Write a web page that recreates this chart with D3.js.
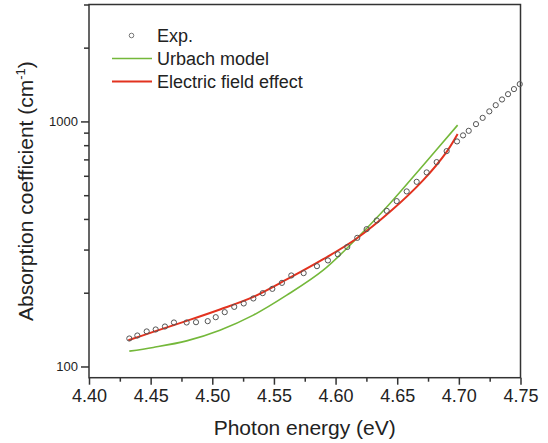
<!DOCTYPE html>
<html>
<head>
<meta charset="utf-8">
<script src="https://cdn.jsdelivr.net/npm/d3@7"></script>
<style>
body{margin:0;background:#fff}
svg text{font-family:"Liberation Sans",Arial,sans-serif;fill:#222}
</style>
</head>
<body>
<svg id="chart" width="548" height="443"></svg>
<script>
// experimental points (photon energy in eV, absorption coefficient in cm^-1)
var expE=[4.4327,4.4392,4.4468,4.4541,4.4616,4.4689,4.4792,4.4868,4.4963,4.5028,
    4.5101,4.5178,4.5255,4.5333,4.5409,4.5487,4.5565,4.5641,4.5741,4.5849,
    4.5938,4.6018,4.6095,4.6176,4.6252,4.6334,4.6415,4.6496,4.6577,4.6658,
    4.6739,4.6820,4.6901,4.6985,4.7034,4.7080,4.7139,4.7193,4.7247,4.7299,
    4.7350,4.7399,4.7447,4.7494];
var expA=[130.1,133.8,139,141.6,145.6,151.2,151.2,151.6,153.1,158.9,
    166.6,175.1,180.8,189.5,199.2,207.4,219.4,235.2,240.4,256.7,
    270.9,287.1,307.4,334.9,363.5,394.5,431.6,472.9,518.1,567,
    619.3,682.3,756.6,828.7,877,915.5,975,1034,1099,1165,
    1229,1292,1355,1420];
// urbach model curve
var urbE=[4.4327,4.4521,4.4792,4.5062,4.5333,4.5604,4.5900,4.6171,4.6441,4.6711,4.6990];
var urbA=[115.5,119.6,127.2,140.6,162.0,195.4,247.2,333.0,462.8,663.1,966];
// electric field effect curve
var efeE=[4.4319,4.4521,4.4792,4.5062,4.5333,4.5604,4.5900,4.6171,4.6441,4.6711,4.6901,4.6990];
var efeA=[128.0,138.4,153.5,170.9,192.3,226.5,274,333.0,427.6,576.1,751.5,887.7];

var xMajor=[4.40,4.45,4.50,4.55,4.60,4.65,4.70,4.75];
var xMinor=[4.425,4.475,4.525,4.575,4.625,4.675,4.725];
var yMajor=[100,1000];
var yMinor=[200,300,400,500,600,700,800,900,2000,3000];

var margin={left:89,top:4.5,right:27.5,bottom:65.3};
var W=548,H=443;
var svg=d3.select("#chart");

var x=d3.scaleLinear().domain([4.40,4.75]).range([margin.left,W-margin.right]);
var y=d3.scaleLog().domain([90,3000]).range([H-margin.bottom,margin.top]);

function zip(a,b){return a.map(function(v,i){return [v,b[i]]})}

// axes
var gx=svg.append("g").attr("transform","translate(0,"+(H-margin.bottom)+")");
gx.call(d3.axisBottom(x).tickValues(xMajor).tickSize(7).tickPadding(5).tickFormat(d3.format(".2f")));
gx.append("g").call(d3.axisBottom(x).tickValues(xMinor).tickSize(4).tickFormat(""));
gx.selectAll("text").style("font-size","18px");

var gy=svg.append("g").attr("transform","translate("+margin.left+",0)");
gy.call(d3.axisLeft(y).tickValues(yMajor).tickSize(8).tickPadding(3).tickFormat(d3.format("d")));
gy.append("g").call(d3.axisLeft(y).tickValues(yMinor).tickSize(5).tickFormat(""));
gy.selectAll("text").style("font-size","13px");

svg.selectAll(".domain").remove();
svg.selectAll(".tick line").attr("stroke","#333").attr("stroke-width",1.5);

// frame
svg.append("rect")
    .attr("x",margin.left).attr("y",margin.top)
    .attr("width",W-margin.left-margin.right)
    .attr("height",H-margin.top-margin.bottom)
    .attr("fill","none").attr("stroke","#333").attr("stroke-width",1.5);

// titles
svg.append("text")
    .attr("x",(margin.left+W-margin.right)/2).attr("y",435)
    .attr("text-anchor","middle").style("font-size","21px")
    .text("Photon energy (eV)");
var yt=svg.append("text")
    .attr("transform","translate(33,"+((margin.top+H-margin.bottom)/2)+") rotate(-90)")
    .attr("text-anchor","middle").style("font-size","21px");
yt.append("tspan").text("Absorption coefficient (cm");
yt.append("tspan").attr("dy",-8).style("font-size","13px").text("-1");
yt.append("tspan").attr("dy",8).text(")");

// curves
var line=d3.line().x(function(d){return x(d[0])}).y(function(d){return y(d[1])}).curve(d3.curveCatmullRom.alpha(0.5));
svg.append("path").datum(zip(urbE,urbA)).attr("d",line)
    .attr("fill","none").attr("stroke","#74b83a").attr("stroke-width",1.6);
svg.append("path").datum(zip(efeE,efeA)).attr("d",line)
    .attr("fill","none").attr("stroke","#e2321f").attr("stroke-width",2);

// exp points
svg.append("g").selectAll("circle").data(zip(expE,expA)).enter().append("circle")
    .attr("cx",function(d){return x(d[0])})
    .attr("cy",function(d){return y(d[1])})
    .attr("r",2.6).attr("fill","none").attr("stroke","#555").attr("stroke-width",1);

// legend
var lg=svg.append("g");
lg.append("circle").attr("cx",131.5).attr("cy",35.5).attr("r",2.3)
    .attr("fill","none").attr("stroke","#777").attr("stroke-width",1);
lg.append("line").attr("x1",112).attr("x2",152).attr("y1",58.5).attr("y2",58.5)
    .attr("stroke","#74b83a").attr("stroke-width",1.6);
lg.append("line").attr("x1",112).attr("x2",152).attr("y1",81.6).attr("y2",81.6)
    .attr("stroke","#e2321f").attr("stroke-width",2);
var legTxt=["Exp.","Urbach model","Electric field effect"];
lg.selectAll("text").data(legTxt).enter().append("text")
    .attr("x",157).attr("y",function(d,i){return 42+i*23.1})
    .style("font-size","18px").text(function(d){return d});
</script>
</body>
</html>
